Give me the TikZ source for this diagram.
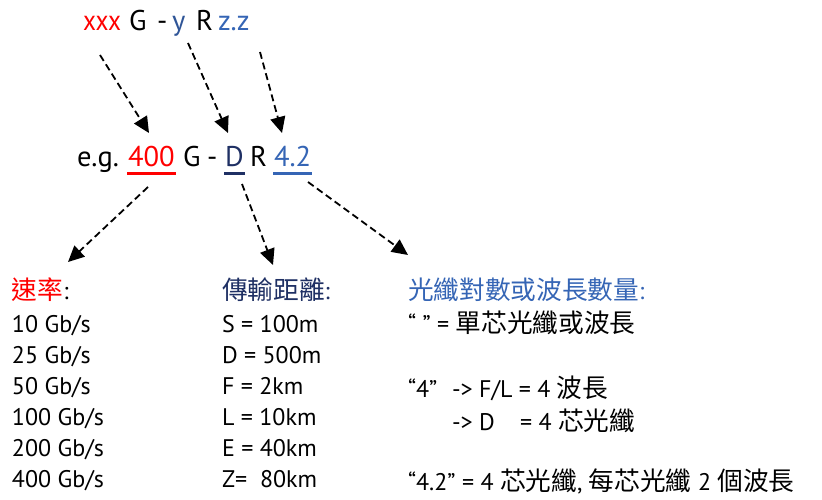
\documentclass[tikz,border=0pt]{standalone}
\usepackage{fontspec}
\setmainfont{PT Sans}
\newfontfamily\cjk[Scale=1.07]{Noto Sans CJK TC}
\usetikzlibrary{arrows.meta}
\definecolor{myred}{HTML}{FF0000}
\definecolor{navy}{HTML}{1F3064}
\definecolor{midblue}{HTML}{2F5597}
\definecolor{lblue}{HTML}{3565B5}
\begin{document}
\begin{tikzpicture}[x=1pt,y=-1pt,
  txt/.style={anchor=base west, inner sep=0pt, outer sep=0pt},
  big/.style={txt, font=\fontsize{28.5}{30}\selectfont},
  body/.style={txt, font=\fontsize{24}{26}\selectfont},
  darr/.style={draw=black, line width=1.8pt, dash pattern=on 7pt off 4pt, -{Triangle[length=16pt,width=15pt]}},
  uline/.style={line width=3pt}]
\useasboundingbox (0,0) rectangle (822,500);
% top line
\node[big, text=myred] (tx) at (83,31) {\scalebox{0.88}[1]{xxx}};
\node[big] (tg) at (129,31) {G};
\node[big] (th) at (157,31) {-};
\node[big, text=midblue] (ty) at (172,31) {y};
\node[big] (tr) at (196,31) {R};
\node[big, text=lblue] (tz) at (218,31) {z.z};
% example line
\node[big] (eg) at (77,167) {e.g.};
\node[big, text=myred] (e400) at (128,167) {400};
\node[big] (eG) at (183,167) {G};
\node[big] (eh) at (207,167) {-};
\node[big, text=navy] (eD) at (225,167) {D};
\node[big] (eR) at (250,167) {R};
\node[big, text=lblue] (e42) at (274,167) {4.2};
% underlines
\draw[uline, myred] ([xshift=-1pt,yshift=-6pt]e400.base west) -- ([xshift=1pt,yshift=-6pt]e400.base east);
\draw[uline, navy] ([xshift=-1pt,yshift=-6pt]eD.base west) -- ([xshift=1pt,yshift=-6pt]eD.base east);
\draw[uline, lblue] ([xshift=-1pt,yshift=-6pt]e42.base west) -- ([xshift=1pt,yshift=-6pt]e42.base east);
% arrow end points
\coordinate (a1s) at (100,55);  \coordinate (a1e) at (149,133);
\coordinate (a2s) at (188,43);  \coordinate (a2e) at (228,133);
\coordinate (a3s) at (260,52);  \coordinate (a3e) at (282,133);
\coordinate (b1s) at (148,187); \coordinate (b1e) at (68,262);
\coordinate (b2s) at (242,184); \coordinate (b2e) at (273,265);
\coordinate (b3s) at (308,182); \coordinate (b3e) at (408,255);
\draw[darr] (a1s) -- (a1e);
\draw[darr] (a2s) -- (a2e);
\draw[darr] (a3s) -- (a3e);
\draw[darr] (b1s) -- (b1e);
\draw[darr] (b2s) -- (b2e);
\draw[darr] (b3s) -- (b3e);
% column 1
\node[body] (h1) at (12,299) {{\cjk\textcolor{myred}{速率}}:};
\node[body] (r1) at (12,332) {10 Gb/s};
\node[body] (r2) at (12,363) {25 Gb/s};
\node[body] (r3) at (12,394) {50 Gb/s};
\node[body] (r4) at (12,425) {100 Gb/s};
\node[body] (r5) at (12,456) {200 Gb/s};
\node[body] (r6) at (12,487) {400 Gb/s};
% column 2
\node[body, text=navy] (h2) at (222,299) {{\cjk 傳輸距離}:};
\node[body] (d1) at (222,332) {S = 100m};
\node[body] (d2) at (222,363) {D = 500m};
\node[body] (d3) at (222,394) {F = 2km};
\node[body] (d4) at (222,425) {L = 10km};
\node[body] (d5) at (222,456) {E = 40km};
\node[body] (d6) at (222,487) {Z=~~80km};
% column 3
\node[body, text=lblue] (h3) at (408,299) {{\cjk 光纖對數或波長數量}:};
\node[body] (f1) at (408,332) {“~” = {\cjk 單芯光纖或波長}};
\node[body] (f2) at (408,397) {“4”};
\node[body] (f2b) at (452,397) {-> F/L = 4 {\cjk 波長}};
\node[body] (f3) at (452,430) {-> D};
\node[body] (f3b) at (520,430) {= 4 {\cjk 芯光纖}};
\node[body] (f4) at (408,490) {“4.2” = 4 {\cjk 芯光纖}, {\cjk 每芯光纖} 2 {\cjk 個波長}};
\end{tikzpicture}
\end{document}
